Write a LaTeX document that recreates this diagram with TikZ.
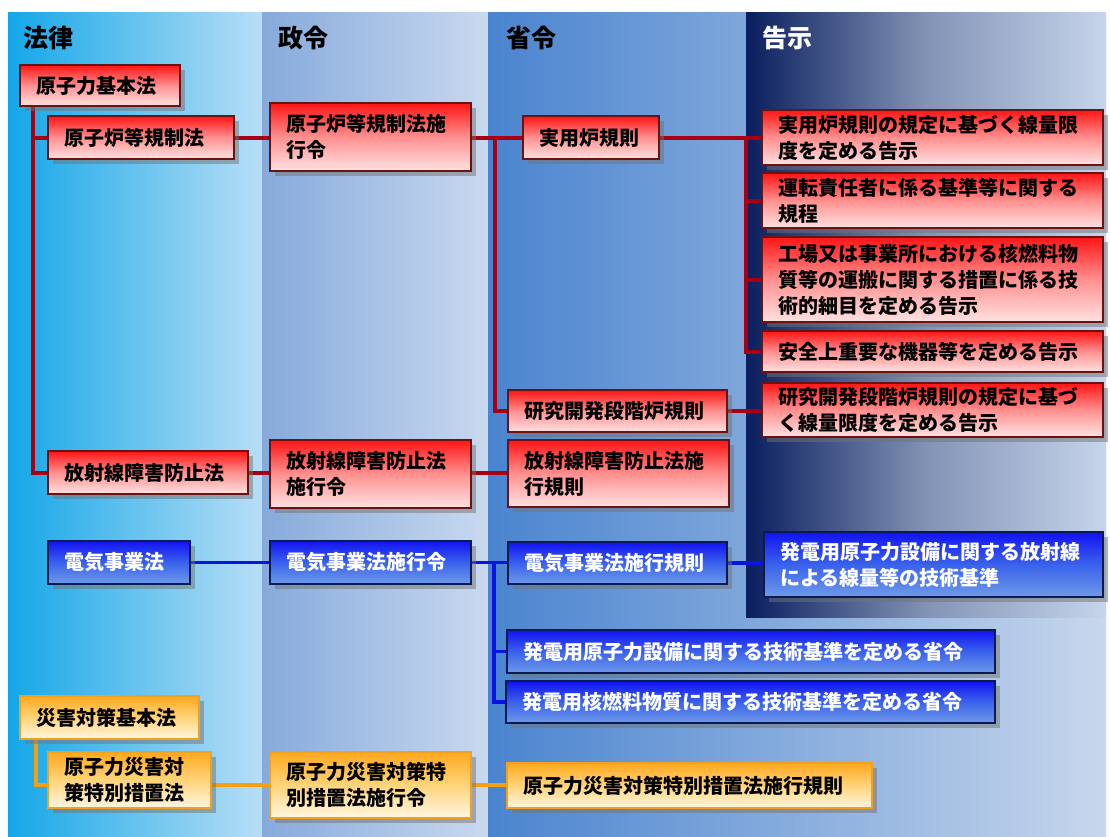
\documentclass[tikz,border=0pt]{standalone}
\usepackage{fontspec}
\setmainfont{Noto Sans CJK JP}
\usetikzlibrary{shadows}
\pgfdeclarelayer{bg}
\pgfdeclarelayer{lines}
\pgfsetlayers{bg,lines,main}
\definecolor{cAl}{HTML}{14A7E8}
\definecolor{cAr}{HTML}{B8DEF6}
\definecolor{cBl}{HTML}{86AADB}
\definecolor{cBr}{HTML}{C9D9EF}
\definecolor{cCl}{HTML}{4A84CF}
\definecolor{cCr}{HTML}{C8D7EC}
\definecolor{cDl}{HTML}{0A1E5E}
\definecolor{cDm}{HTML}{8393B5}
\definecolor{cDr}{HTML}{C6D5EB}
\definecolor{rtop}{HTML}{FF1414}
\definecolor{rmid}{HTML}{FF9090}
\definecolor{rbot}{HTML}{FFE2E2}
\definecolor{rbord}{HTML}{6B1212}
\definecolor{rline}{HTML}{A80012}
\definecolor{btop}{HTML}{1212F2}
\definecolor{bmid}{HTML}{3A62EC}
\definecolor{bbot}{HTML}{6E9AE8}
\definecolor{bbord}{HTML}{0A1A52}
\definecolor{bline}{HTML}{0A14E0}
\definecolor{otop}{HTML}{FFA81E}
\definecolor{omid}{HTML}{FFD47A}
\definecolor{obot}{HTML}{FFF6E2}
\definecolor{obord}{HTML}{F2A020}
\definecolor{oline}{HTML}{F5A010}
\tikzset{
  boxbase/.style={draw, line width=1.5pt, inner xsep=16pt, inner ysep=0pt, align=left,
    font=\bfseries\fontsize{20}{26}\selectfont,
    drop shadow={shadow xshift=5pt, shadow yshift=-5pt, fill=black!55, opacity=0.5}},
  redbox/.style={boxbase, draw=rbord, top color=rtop, bottom color=rbot, middle color=rmid, text=black},
  bluebox/.style={boxbase, draw=bbord, top color=btop, bottom color=bbot, middle color=bmid, text=white},
  orangebox/.style={boxbase, draw=obord, top color=otop, bottom color=obot, middle color=omid, text=black},
  redline/.style={draw=rline, line width=4pt},
  blueline/.style={draw=bline, line width=3.5pt},
  orangeline/.style={draw=oline, line width=3.5pt},
  header/.style={font=\bfseries\fontsize{25}{30}\selectfont, anchor=west, inner sep=0pt},
}
\newcommand\lawbox[7]{%
  \pgfmathsetmacro\lbw{#4-#2}%
  \pgfmathsetmacro\lbh{#5-#3}%
  \pgfmathsetmacro\lbt{#4-#2-32}%
  \node[#6, minimum width=\lbw pt, minimum height=\lbh pt, text width=\lbt pt] (#1) at ({(#2+#4)/2},{(#3+#5)/2}) {#7};}
\begin{document}
\begin{tikzpicture}[x=1pt,y=-1pt]
\useasboundingbox (0,0) rectangle (1110,836);
% background columns
\begin{pgfonlayer}{bg}
\shade[left color=cAl, right color=cAr] (8,12) rectangle (262,836);
\shade[left color=cBl, right color=cBr] (262,12) rectangle (488,836);
\shade[left color=cCl, right color=cCr] (488,12) rectangle (1106,836);
\shade[left color=cDl, right color=cDr, middle color=cDm] (746,12) rectangle (1106,617);
\end{pgfonlayer}
% headers
\node[header] (h1) at (23,38) {法律};
\node[header] (h2) at (278,38) {政令};
\node[header] (h3) at (506,38) {省令};
\node[header, text=white] (h4) at (762,38) {告示};
% red boxes
\lawbox{B1}{20}{65}{180}{106}{redbox}{原子力基本法}
\lawbox{B2}{48}{116}{234}{159}{redbox}{原子炉等規制法}
\lawbox{B3}{270}{103}{471}{171}{redbox}{原子炉等規制法施\\行令}
\lawbox{B4}{523}{116}{659}{159}{redbox}{実用炉規則}
\lawbox{B5}{762}{110}{1103}{165}{redbox}{実用炉規則の規定に基づく線量限\\度を定める告示}
\lawbox{B6}{762}{173}{1103}{228}{redbox}{運転責任者に係る基準等に関する\\規程}
\lawbox{B7}{762}{237}{1103}{322}{redbox}{工場又は事業所における核燃料物\\質等の運搬に関する措置に係る技\\術的細目を定める告示}
\lawbox{B8}{762}{331}{1103}{372}{redbox}{安全上重要な機器等を定める告示}
\lawbox{B9}{508}{390}{727}{432}{redbox}{研究開発段階炉規則}
\lawbox{B10}{762}{383}{1103}{437}{redbox}{研究開発段階炉規則の規定に基づ\\く線量限度を定める告示}
\lawbox{B11}{48}{451}{248}{494}{redbox}{放射線障害防止法}
\lawbox{B12}{270}{440}{471}{508}{redbox}{放射線障害防止法\\施行令}
\lawbox{B13}{508}{440}{729}{507}{redbox}{放射線障害防止法施\\行規則}
% blue boxes
\lawbox{C1}{48}{541}{190}{584}{bluebox}{電気事業法}
\lawbox{C2}{270}{541}{471}{584}{bluebox}{電気事業法施行令}
\lawbox{C3}{508}{542}{727}{584}{bluebox}{電気事業法施行規則}
\lawbox{C4}{764}{532}{1103}{597}{bluebox}{発電用原子力設備に関する放射線\\による線量等の技術基準}
\lawbox{C5}{507}{630}{995}{673}{bluebox}{発電用原子力設備に関する技術基準を定める省令}
\lawbox{C6}{506}{681}{995}{723}{bluebox}{発電用核燃料物質に関する技術基準を定める省令}
% orange boxes
\lawbox{D1}{20}{696}{199}{739}{orangebox}{災害対策基本法}
\lawbox{D2}{48}{752}{211}{808}{orangebox}{原子力災害対\\策特別措置法}
\lawbox{D3}{270}{752}{471}{818}{orangebox}{原子力災害対策特\\別措置法施行令}
\lawbox{D4}{507}{763}{872}{808}{orangebox}{原子力災害対策特別措置法施行規則}
% junction coordinates
\coordinate (r1) at (33,0);
\coordinate (r2) at (495,0);
\coordinate (r3) at (746,0);
\coordinate (b1) at (494,0);
\coordinate (o1) at (36,0);
% connectors (behind boxes)
\begin{pgfonlayer}{lines}
\draw[redline] (B1.south -| r1) |- (B11.west);
\draw[redline] (B2.west -| r1) -- (B2.west);
\draw[redline] (B2.east) -- (B3.west |- B2.east);
\draw[redline] (B3.east |- B4.west) -- (B4.west);
\draw[redline] (B4.west -| r2) |- (B9.west);
\draw[redline] (B4.east) -- (B5.west |- B4.east);
\draw[redline] (B4.east -| r3) |- (B8.west);
\draw[redline] (B6.west -| r3) -- (B6.west);
\draw[redline] (B7.west -| r3) -- (B7.west);
\draw[redline] (B9.east) -- (B10.west |- B9.east);
\draw[redline] (B11.east) -- (B12.west |- B11.east);
\draw[redline] (B12.east |- B11.east) -- (B13.west |- B11.east);
\draw[blueline] (C1.east) -- (C2.west);
\draw[blueline] (C2.east) -- (C3.west |- C2.east);
\draw[blueline] (C3.east) -- (C4.west |- C3.east);
\draw[blueline] (C2.east -| b1) |- (C6.west);
\draw[blueline] (C5.west -| b1) -- (C5.west);
\draw[orangeline] (D1.south -| o1) |- (D2.west |- D3.west);
\draw[orangeline] (D2.east |- D3.west) -- (D3.west);
\draw[orangeline] (D3.east) -- (D4.west |- D3.east);
\end{pgfonlayer}
\end{tikzpicture}
\end{document}
